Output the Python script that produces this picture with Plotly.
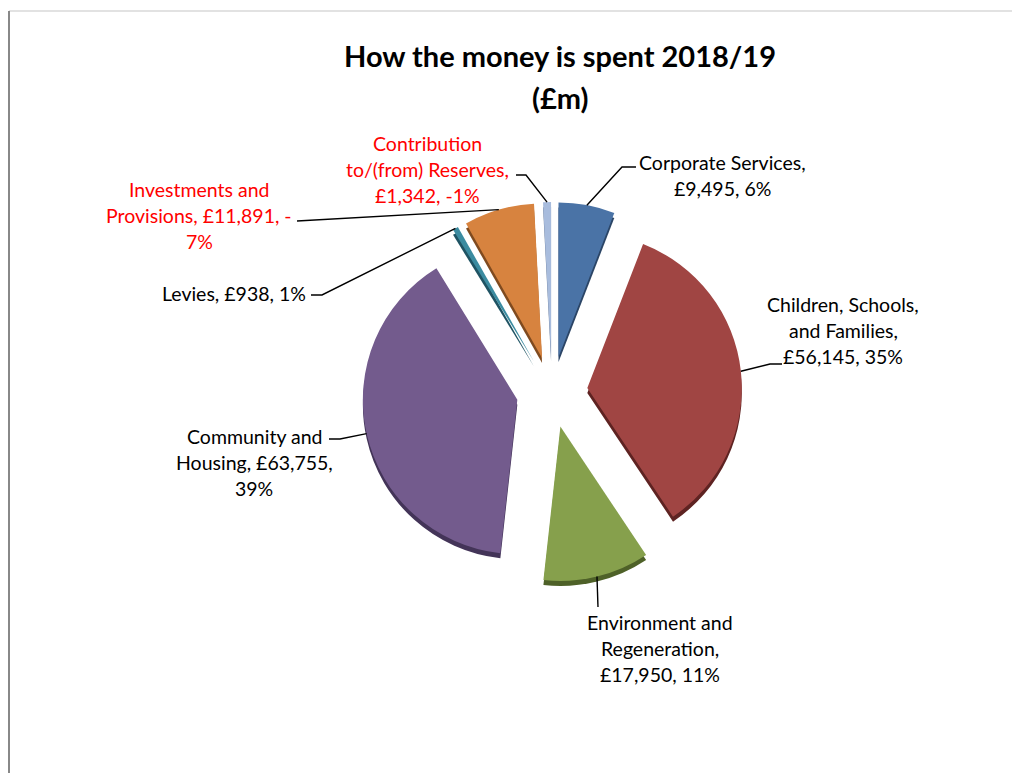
import math
import plotly.graph_objects as go

# ---- data (£m, 2018/19) ----
categories = [
    "Corporate Services",
    "Children, Schools, and Families",
    "Environment and Regeneration",
    "Community and Housing",
    "Levies",
    "Investments and Provisions",
    "Contribution to/(from) Reserves",
]
values = [9495, 56145, 17950, 63755, 938, -11891, -1342]
colors = ["#4A73A6", "#A04543", "#86A04C", "#735B8D", "#3B8BA0", "#D7833F", "#A8BCDD"]
side_colors = ["#2B4566", "#5E2322", "#4E6128", "#433458", "#1F5363", "#7F4A1F", "#6A7C99"]

# label layouts: "|" separates lines; {val} and {pct} are filled from the data
label_templates = [
    "Corporate Services,|{val}, {pct}%",
    "Children, Schools,|and Families,|{val}, {pct}%",
    "Environment and|Regeneration,|{val}, {pct}%",
    "Community and|Housing, {val},|{pct}%",
    "Levies, {val}, {pct}%",
    "Investments and|Provisions, {val}, {sgn}|{apct}%",
    "Contribution|to/(from) Reserves,|{val}, {pct}%",
]

W, H = 1012, 773
CX, CY = 552, 392          # pie centre (px)
BOX = 380                  # pie box side (px)
PULL = 0.23
LINE_STEP = 26             # label line spacing (px)

# label centre x and first-line y (px)
label_pos = [(722, 162), (843, 305), (660, 622), (254, 436), (234, 294), (199, 190), (427, 143)]
# leader-line points from the label side (px); the slice end is computed
leader_pts = [
    [(636, 167), (622, 167)],
    [(782, 364), (770, 364)],
    [(598, 607)],
    [(329, 439), (340, 439)],
    [(311, 295), (322, 295)],
    [(297, 221)],
    [(516, 175), (526, 175)],
]


def px(x):
    return x / W


def py(y):
    return 1 - y / H


sizes = [abs(v) for v in values]
total = sum(sizes)

fig = go.Figure()

# side wall / depth of the slices
shift = 5
fig.add_trace(go.Pie(
    values=sizes, labels=categories, sort=False, direction="clockwise", rotation=0,
    pull=[PULL] * len(values), marker=dict(colors=side_colors, line=dict(width=0)),
    textinfo="none", hoverinfo="skip", showlegend=False,
    domain=dict(x=[px(CX - BOX / 2), px(CX + BOX / 2)],
                y=[py(CY + shift + BOX / 2), py(CY + shift - BOX / 2)]),
))

# slice faces
fig.add_trace(go.Pie(
    values=sizes, labels=categories, sort=False, direction="clockwise", rotation=0,
    pull=[PULL] * len(values), marker=dict(colors=colors, line=dict(width=0)),
    textinfo="none", hoverinfo="label+value", showlegend=False,
    domain=dict(x=[px(CX - BOX / 2), px(CX + BOX / 2)],
                y=[py(CY + BOX / 2), py(CY - BOX / 2)]),
))

annotations = []
shapes = []
cum = 0.0
for i, v in enumerate(values):
    frac = sizes[i] / total
    mid = (cum + frac / 2) * 2 * math.pi
    cum += frac
    # outer edge of the pulled slice at its mid angle
    ax = CX + (BOX / 2) * math.sin(mid)
    ay = CY - (BOX / 2) * math.cos(mid)

    pct = round(v / total * 100)
    text = label_templates[i].format(
        val=f"£{abs(v):,}", pct=pct, sgn="-" if pct < 0 else "", apct=abs(pct))
    color = "#FF0000" if v < 0 else "#000000"
    lx, ly = label_pos[i]
    for k, line in enumerate(text.split("|")):
        annotations.append(dict(
            x=px(lx), y=py(ly + k * LINE_STEP), xref="paper", yref="paper",
            text=line, showarrow=False, xanchor="center", yanchor="middle",
            font=dict(family="Lato", size=19.5, color=color),
        ))

    pts = leader_pts[i] + [(ax, ay)]
    path = "M " + " L ".join(f"{px(x)},{py(y)}" for x, y in pts)
    shapes.append(dict(type="path", path=path, xref="paper", yref="paper",
                       line=dict(color="#000000", width=1.4)))

# title
for k, line in enumerate(["How the money is spent 2018/19", "(£m)"]):
    annotations.append(dict(
        x=px(560), y=py(55 + k * 42), xref="paper", yref="paper", text=f"<b>{line}</b>",
        showarrow=False, xanchor="center", yanchor="middle",
        font=dict(family="Lato", size=29, color="#000000"),
    ))

# chart frame edges
shapes.append(dict(type="line", xref="paper", yref="paper", x0=px(9), x1=1, y0=py(11), y1=py(11),
                   line=dict(color="#D9D9D9", width=1.5)))
shapes.append(dict(type="line", xref="paper", yref="paper", x0=px(9), x1=px(9), y0=py(11), y1=0,
                   line=dict(color="#888888", width=2)))

fig.update_layout(
    width=W, height=H, margin=dict(l=0, r=0, t=0, b=0),
    paper_bgcolor="white", plot_bgcolor="white", showlegend=False,
    annotations=annotations, shapes=shapes,
)

fig.write_html("out.html")
